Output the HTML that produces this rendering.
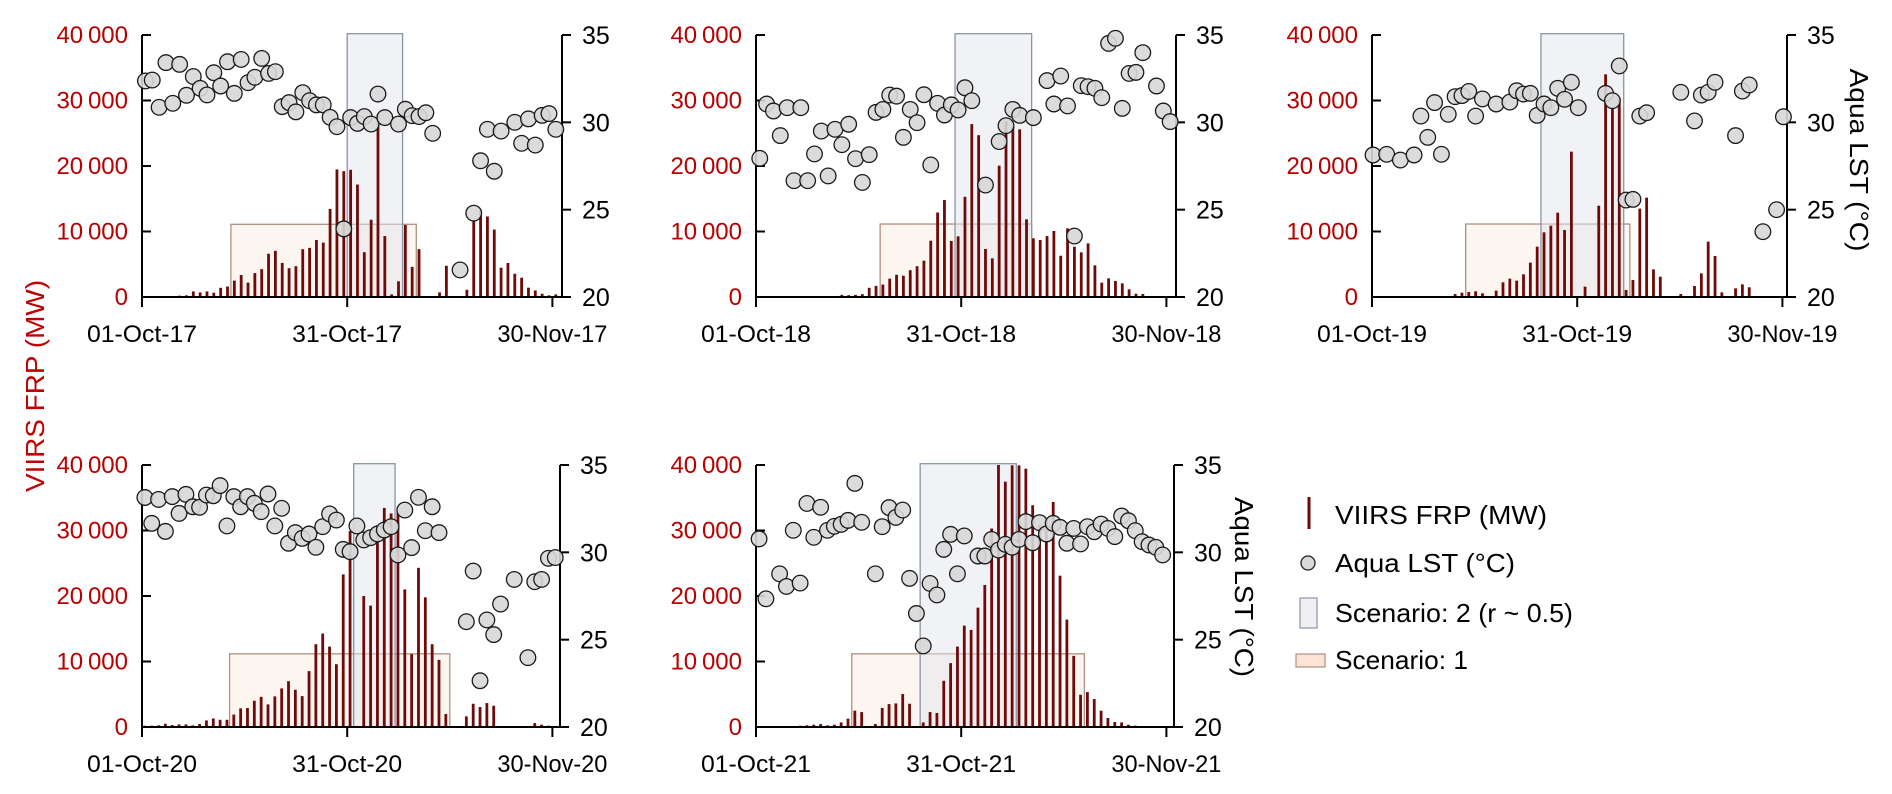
<!DOCTYPE html>
<html><head><meta charset="utf-8">
<style>
html,body{margin:0;padding:0;background:#fff;}
svg{display:block;font-family:"Liberation Sans",Arial,sans-serif;}
</style></head>
<body>
<svg id="chart" width="1892" height="794" viewBox="0 0 1892 794" xmlns="http://www.w3.org/2000/svg">
  <text x="0" y="0" transform="translate(44,386) rotate(-90)" text-anchor="middle" font-size="26" fill="#c00000" textLength="212" lengthAdjust="spacingAndGlyphs">VIIRS FRP (MW)</text>
  <text x="0" y="0" transform="translate(1850,160) rotate(90)" text-anchor="middle" font-size="26" fill="#000" textLength="183" lengthAdjust="spacingAndGlyphs">Aqua LST (°C)</text>
  <text x="0" y="0" transform="translate(1235,587) rotate(90)" text-anchor="middle" font-size="26" fill="#000" textLength="180" lengthAdjust="spacingAndGlyphs">Aqua LST (°C)</text>
  <g>
    <line x1="1309" y1="497" x2="1309" y2="529" stroke="#6e0a0a" stroke-width="3"/>
    <text x="1335" y="524" font-size="26" textLength="212" lengthAdjust="spacingAndGlyphs">VIIRS FRP (MW)</text>
    <circle cx="1308" cy="563" r="7" fill="#d9d9d9" stroke="#222" stroke-width="1.3"/>
    <text x="1335" y="572" font-size="26" textLength="180" lengthAdjust="spacingAndGlyphs">Aqua LST (°C)</text>
    <rect x="1300" y="598" width="17" height="30" fill="#f0f0f2" stroke="#8a94a8" stroke-width="1.2"/>
    <text x="1335" y="622" font-size="26" textLength="238" lengthAdjust="spacingAndGlyphs">Scenario: 2 (r ~ 0.5)</text>
    <rect x="1296" y="654" width="29" height="13" fill="#fbe3d6" stroke="#b09080" stroke-width="1.2"/>
    <text x="1335" y="669" font-size="26" textLength="133" lengthAdjust="spacingAndGlyphs">Scenario: 1</text>
  </g>
</svg>
<script>
// ---- data (daily values, index 0 = 01-Oct) ----
const years = ["17","18","19","20","21"];
const frp17 = [0,0,0,50,150,200,250,850,700,850,650,1400,1600,2500,3350,2200,3650,4250,6600,7050,5200,4400,4700,7300,7500,8700,8300,13450,19470,19210,19420,17170,6840,11800,27850,9300,400,2400,11000,4600,7300,0,0,700,4770,0,0,1100,11800,13200,12300,10300,4470,5200,3550,2950,1420,1000,500,250,400];
const lst17 = [32.37,32.42,30.86,33.42,31.09,33.32,31.55,32.62,31.95,31.57,32.84,32.08,33.47,31.66,33.6,32.27,32.58,33.66,32.8,32.9,30.9,31.13,30.6,31.7,31.24,31.0,31.0,30.29,29.75,23.9,30.27,29.94,30.33,29.9,31.62,30.27,null,29.9,30.75,30.38,30.33,30.55,29.37,null,null,null,21.55,null,24.8,27.8,29.6,27.2,29.5,null,30.0,28.8,30.2,28.7,30.4,30.5,29.6];
const frp18 = [0,0,0,0,0,0,0,0,0,0,0,100,330,280,330,430,1400,1700,1900,2800,3400,3250,4100,4700,5550,8600,12900,14800,8550,9260,15300,26400,24700,7330,5900,20050,26770,26000,25600,11860,8960,8700,9300,10080,6300,10480,7680,6820,8190,4830,2190,2850,2440,2090,1170,500,460,0,0,0,0];
const lst18 = [27.94,31.05,30.65,29.24,30.84,26.66,30.84,26.66,28.19,29.5,26.93,29.6,28.72,29.89,27.92,26.56,28.15,30.57,30.74,31.56,31.5,29.14,30.74,29.98,31.58,27.56,31.09,30.42,31.0,30.71,31.98,31.24,null,26.41,null,28.9,29.81,30.74,30.4,null,30.27,null,32.39,31.05,32.65,30.94,23.49,32.1,32.04,31.95,31.41,34.52,34.81,30.8,32.8,32.86,33.99,null,32.08,30.65,30.04];
const frp19 = [0,0,0,0,0,0,0,0,150,150,150,150,450,660,760,870,560,0,970,2240,2800,2500,3460,5240,7680,9870,10890,12870,10230,22190,0,1580,0,13940,33990,28800,30330,1070,2600,13490,15170,4220,3100,0,0,460,0,1680,3610,8450,6260,710,0,1320,1930,1480,0,0,0,0,100];
const lst19 = [28.13,null,28.17,null,27.84,null,28.13,30.36,29.14,31.13,28.17,30.46,31.47,31.53,31.77,30.36,31.34,null,31.05,null,31.16,31.81,31.62,31.66,30.4,31.05,30.84,31.95,31.32,32.29,30.84,null,null,null,31.66,31.24,33.23,25.55,25.59,30.36,30.55,null,null,null,null,31.72,null,30.08,31.56,31.72,32.29,null,null,29.24,31.79,32.14,null,23.74,null,25.0,30.32];
const frp20 = [200,200,250,500,300,400,400,250,450,1000,1300,1100,1100,1900,2840,2900,4000,4600,3450,4670,5890,7000,5690,4720,8530,12640,14260,12280,9590,23300,29900,0,20000,18530,30800,33450,32600,32740,21000,11120,24300,19800,12640,10250,1980,100,0,1620,3550,3050,3650,3250,0,0,0,0,0,600,350,200,0];
const lst20 = [33.14,31.66,33.03,31.2,33.19,32.23,33.32,32.61,32.58,33.28,33.24,33.82,31.51,33.19,32.61,33.19,32.81,32.33,33.34,31.51,32.52,30.52,31.13,30.8,31.05,30.29,31.47,32.2,31.85,30.17,30.04,31.51,30.71,30.84,31.05,31.28,31.47,29.85,32.42,30.27,33.15,31.24,32.61,31.13,null,null,null,26.03,28.93,22.65,26.13,25.29,27.04,null,28.45,null,23.97,28.32,28.45,29.66,29.7];
const frp21 = [0,0,0,0,0,0,200,250,350,450,250,350,700,1270,2490,2280,0,460,2900,3500,3600,5030,3550,0,700,2280,2130,7050,9750,12280,15480,14820,18220,21680,30300,40000,37460,39950,39950,39440,33860,30860,30200,34360,23100,16400,10860,4920,5330,4260,2490,1370,760,700,350,200,0,0,0,0,0];
const lst21 = [30.77,27.34,null,28.77,28.05,31.26,28.24,32.8,30.86,32.58,31.26,31.49,31.6,31.83,33.95,31.72,null,28.77,31.47,32.56,32.0,32.42,28.51,26.5,24.64,28.22,27.56,30.17,31.03,28.77,30.94,null,29.79,29.79,30.74,30.13,30.46,30.29,30.74,31.76,30.55,31.7,31.05,31.66,31.43,30.52,31.37,30.48,31.47,31.18,31.62,31.37,30.9,32.08,31.81,31.24,30.61,30.42,30.29,29.85,null];
// scenario windows: [start day, end day, top FRP]
const scen1 = [[13.0,40.1,11100],[18.15,40.3,11140],[13.7,37.7,11140],[12.8,45.0,11170],[14.0,48.0,11170]];
const scen2 = [[30.0,38.1,40200],[29.1,40.3,40200],[24.7,36.8,40200],[30.95,37.0,40200],[24.0,38.05,40200]];
const frpTicks = [0,10000,20000,30000,40000];
const frpTickLabels = ["0","10\u2009000","20\u2009000","30\u2009000","40\u2009000"];
const lstTicks = [20,25,30,35];
const dateTicks = [0,30,60];
const dateTickLabels = ["01-Oct-","31-Oct-","30-Nov-"];

const frpSeries = [frp17,frp18,frp19,frp20,frp21];
const lstSeries = [lst17,lst18,lst19,lst20,lst21];

// ---- layout ----
const panels = [
  {x0:142, right:562, top:35, bot:297, off:0.5},
  {x0:756, right:1176, top:35, bot:297, off:0.55},
  {x0:1372, right:1787, top:35, bot:297, off:0.15},
  {x0:142, right:560, top:465, bot:727, off:0.42},
  {x0:756, right:1174, top:465, bot:727, off:0.45}
];
const DAY = 6.84;
const NS = "http://www.w3.org/2000/svg";
const svg = document.getElementById('chart');
function mk(tag, attrs, parent){
  const e = document.createElementNS(NS, tag);
  for (const k in attrs) e.setAttribute(k, attrs[k]);
  (parent||svg).appendChild(e);
  return e;
}

panels.forEach((p, pi) => {
  const yr = years[pi];
  const xScale = d => p.x0 + d*DAY;
  const yFrp = v => p.bot - (Math.min(v,40000)/40000)*(p.bot-p.top);
  const yLst = v => p.bot - ((v-20)/15)*(p.bot-p.top);
  const g = mk('g', {});
  
  

  const s1 = scen1[pi];
  const r1 = mk('rect', {x:xScale(s1[0]), y:yFrp(s1[2]), width:(s1[1]-s1[0])*DAY, height:p.bot-yFrp(s1[2]), fill:'rgba(250,222,205,0.3)', stroke:'#b09080', 'stroke-width':1.3}, g);
  
  
  const s2 = scen2[pi];
  const r2 = mk('rect', {x:xScale(s2[0]), y:p.bot-(p.bot-p.top)*s2[2]/40000, width:(s2[1]-s2[0])*DAY, height:(p.bot-p.top)*s2[2]/40000, fill:'rgba(228,230,236,0.5)', stroke:'#8a94a8', 'stroke-width':1.3}, g);
  
  

  frpSeries[pi].forEach((v, i) => {
    if (!v) return;
    const cx = xScale(i + p.off);
    const b = mk('rect', {x:cx-1.4, y:yFrp(v), width:2.8, height:p.bot-yFrp(v), fill:'#6e0a0a'}, g);
    
    
  });

  const ax = mk('g', {stroke:'#000', 'stroke-width':2, fill:'none'}, g);
  
  
  mk('line', {x1:p.x0, y1:p.top, x2:p.x0, y2:p.bot+1}, ax);
  mk('line', {x1:p.right, y1:p.top, x2:p.right, y2:p.bot+1}, ax);
  mk('line', {x1:p.x0-1, y1:p.bot, x2:p.right+8, y2:p.bot}, ax);
  frpTicks.forEach((t, k) => {
    mk('line', {x1:p.x0, y1:yFrp(t), x2:p.x0+9, y2:yFrp(t)}, ax);
    const tx = mk('text', {x:p.x0-14, y:yFrp(t)+8, 'text-anchor':'end', 'font-size':24, fill:'#b80000', stroke:'none'}, g);
    tx.textContent = frpTickLabels[k];
    
    
  });
  lstTicks.forEach(t => {
    mk('line', {x1:p.right, y1:yLst(t), x2:p.right+9, y2:yLst(t)}, ax);
    const tx = mk('text', {x:p.right+20, y:yLst(t)+9, 'font-size':25, fill:'#000', stroke:'none'}, g);
    tx.textContent = String(t);
    
    
  });
  dateTicks.forEach((d, k) => {
    mk('line', {x1:xScale(d), y1:p.bot, x2:xScale(d), y2:p.bot+10}, ax);
    const tx = mk('text', {x:xScale(d), y:p.bot+45, 'text-anchor':'middle', 'font-size':24, fill:'#000', stroke:'none', textLength:110, lengthAdjust:'spacingAndGlyphs'}, g);
    tx.textContent = dateTickLabels[k] + yr;
    
    
  });

  lstSeries[pi].forEach((v, i) => {
    if (v === null) return;
    const c = mk('circle', {cx:xScale(i + p.off), cy:yLst(v), r:7.8, fill:'rgba(215,215,215,0.9)', stroke:'#1a1a1a', 'stroke-width':1.3}, g);
    
    
  });
});
</script>
</body></html>
